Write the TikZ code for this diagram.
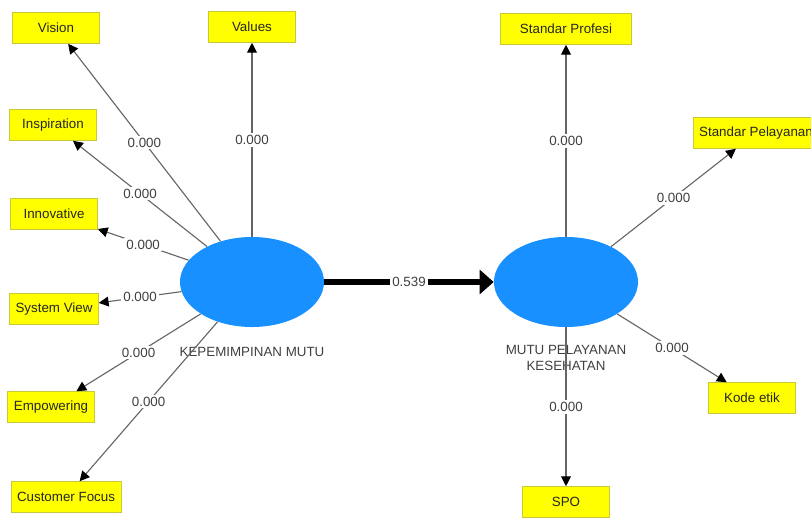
\documentclass[tikz,border=0pt]{standalone}
\usepackage{fontspec}
\setmainfont{Liberation Sans}
\usetikzlibrary{shapes.geometric,arrows.meta}
\definecolor{lvblue}{RGB}{24,144,255}
\definecolor{indyellow}{RGB}{255,255,0}
\definecolor{indborder}{RGB}{200,200,60}

\begin{document}
\begin{tikzpicture}[x=0.025cm,y=-0.025cm,
    font=\fontsize{9.5}{12}\selectfont,
    latent/.style={ellipse,fill=lvblue,minimum width=3.6cm,minimum height=2.25cm,inner sep=0pt},
    lvname/.style={text=black!75,align=center,inner sep=1pt},
    indicator/.style={rectangle,draw=indborder,fill=indyellow,text=black!85,
        minimum width=2.175cm,minimum height=0.775cm,inner xsep=0.15cm},
    loading/.style={draw=black!60,line width=0.8pt,-{Triangle[length=7pt,width=7pt,color=black]}},
    structural/.style={draw=black,line width=4.5pt,-{Triangle[length=10pt,width=17pt]}},
    weight/.style={midway,fill=white,inner sep=1.5pt,text=black!75}]
    \useasboundingbox (0,0) rectangle (811,519);
% latent variables
    \node[latent] (km) at (252,282) {};
    \node[latent] (mpk) at (566,282) {};
    \node[lvname] (kmname) at (252,352) {KEPEMIMPINAN MUTU};
    \node[lvname] (mpkname) at (566,358) {MUTU PELAYANAN\\KESEHATAN};
% indicators of Kepemimpinan Mutu
    \node[indicator] (vision) at (56,28) {Vision};
    \node[indicator] (values) at (252,27) {Values};
    \node[indicator] (inspiration) at (53,125) {Inspiration};
    \node[indicator] (innovative) at (54,214) {Innovative};
    \node[indicator] (systemview) at (54,309) {System View};
    \node[indicator] (empowering) at (51,407) {Empowering};
    \node[indicator] (customer) at (66,497) {Customer Focus};
% indicators of Mutu Pelayanan Kesehatan
    \node[indicator,minimum width=3.275cm] (profesi) at (566,29) {Standar Profesi};
    \node[indicator] (pelayanan) at (756,133) {Standar Pelayanan};
    \node[indicator] (kodeetik) at (752,398) {Kode etik};
    \node[indicator] (spo) at (566,502) {SPO};
% loadings
    \foreach \ind in {vision,values,inspiration,innovative,systemview,empowering,customer} {
        \draw[loading] (km) -- (\ind) node[weight] {0.000};
    }
    \foreach \ind in {profesi,pelayanan,kodeetik,spo} {
        \draw[loading] (mpk) -- (\ind) node[weight] {0.000};
    }
% path coefficient
    \draw[structural] (km) -- (mpk) node[weight] {0.539};
\end{tikzpicture}
\end{document}
